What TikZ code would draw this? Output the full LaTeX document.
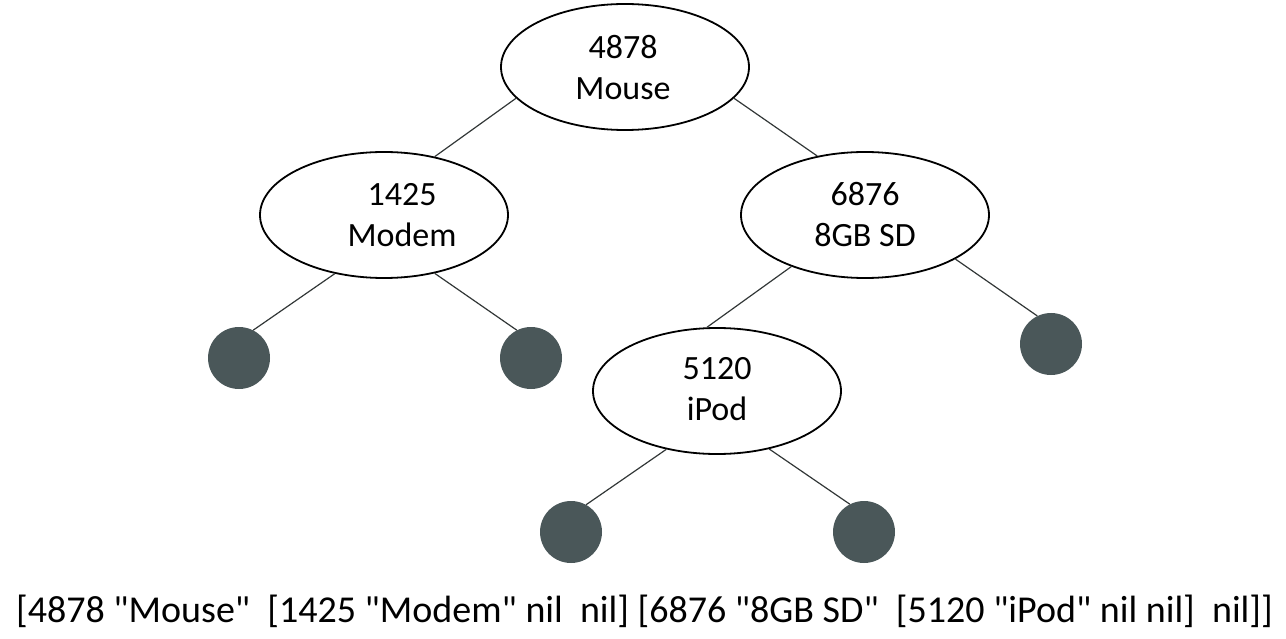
\documentclass[tikz,border=0pt]{standalone}
\usepackage{fontspec}
\setmainfont{Carlito}
\newfontfamily\plainfont{Carlito}
\usetikzlibrary{shapes.geometric}
\definecolor{leafgray}{RGB}{74,87,89}
\definecolor{edgegray}{RGB}{50,55,55}
\tikzset{
  keynode/.style={ellipse, draw=black, line width=1.8pt, fill=white,
    minimum width=248pt, minimum height=126pt, inner sep=0pt},
  keytext/.style={align=center, inner sep=0pt, font=\fontsize{34}{41}\selectfont},
  leaf/.style={circle, fill=leafgray, minimum size=62pt, inner sep=0pt},
  edge/.style={draw=edgegray, line width=1.2pt},
  listtext/.style={anchor=base, inner sep=0pt, font=\plainfont\fontsize{38}{46}\selectfont}
}
\begin{document}
\begin{tikzpicture}[x=1pt, y=-1pt]
\useasboundingbox (0,0) rectangle (1286,639);
% tree nodes
\node[keynode] (root) at (625,67) {};
\node[keynode] (modem) at (384,215) {};
\node[keynode] (sd) at (865,215) {};
\node[keynode] (ipod) at (717,391) {};
\node[keytext] (roott) at (623,68) {4878\\Mouse};
\node[keytext] (modemt) at (402,215) {1425\\Modem};
\node[keytext] (sdt) at (865,215) {6876\\8GB SD};
\node[keytext] (ipodt) at (717,389) {5120\\iPod};
% leaves
\node[leaf] (l1) at (239,358) {};
\node[leaf] (l2) at (531,358) {};
\node[leaf] (l3) at (1051,344) {};
\node[leaf] (l4) at (571,532) {};
\node[leaf] (l5) at (864,532) {};
% edges
\draw[edge] (root.196) -- (modem.49);
\draw[edge] (root.344) -- (sd.129);
\draw[edge] (modem.230) -- (l1.63);
\draw[edge] (modem.311) -- (l2.117);
\draw[edge] (sd.215) -- (ipod.99);
\draw[edge] (sd.334) -- (l3.116);
\draw[edge] (ipod.229) -- (l4.61);
\draw[edge] (ipod.312) -- (l5.117);
% list representation
\node[listtext] (list) at (644.5,622) {[4878 "Mouse"~ [1425 "Modem" nil~ nil] [6876 "8GB SD"~ [5120 "iPod" nil nil]~ nil]]};
\end{tikzpicture}
\end{document}
